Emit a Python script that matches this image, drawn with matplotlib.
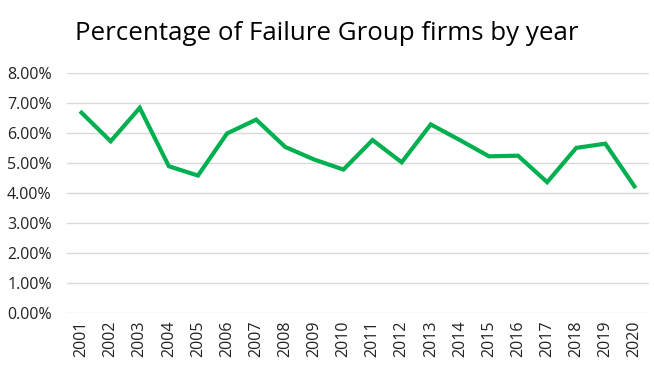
import matplotlib
matplotlib.use("Agg")
import matplotlib.pyplot as plt
from matplotlib.ticker import FuncFormatter

years = [str(y) for y in range(2001, 2021)]
pct = [6.67, 5.72, 6.83, 4.89, 4.58, 5.98, 6.44, 5.53, 5.11, 4.78,
       5.76, 5.02, 6.28, 5.76, 5.22, 5.24, 4.36, 5.50, 5.64, 4.22]
title = "Percentage of Failure Group firms by year"

plt.rcParams['font.family'] = ['Open Sans', 'DejaVu Sans']

fig = plt.figure(figsize=(6.54, 3.75), dpi=100)
ax = fig.add_axes([67/654, (375-313.3)/375, (649-67)/654, (313.3-72.7)/375])
x = list(range(len(years)))
ax.plot(x, [v/100 for v in pct], color='#00B050', lw=3.0, solid_joinstyle='miter', zorder=3)
ax.set_xlim(-0.5, len(years)-0.5)
ax.set_ylim(0, 0.08)
ax.set_yticks([i/100 for i in range(9)])
ax.yaxis.set_major_formatter(FuncFormatter(lambda v, p: f"{v*100:.2f}%"))
ax.set_xticks(x)
ax.set_xticklabels(years, rotation=90)
ax.grid(axis='y', color='#D9D9D9', lw=1)
ax.set_axisbelow(True)
for s in ax.spines.values():
    s.set_visible(False)
ax.tick_params(length=0, labelsize=11.5, colors='#222222', pad=5)
ax.tick_params(axis='y', pad=11)
fig.text(0.5, 1-33/375, title, ha='center', va='center', fontsize=18.6, color='black')
fig.savefig('out.png', dpi=100)
